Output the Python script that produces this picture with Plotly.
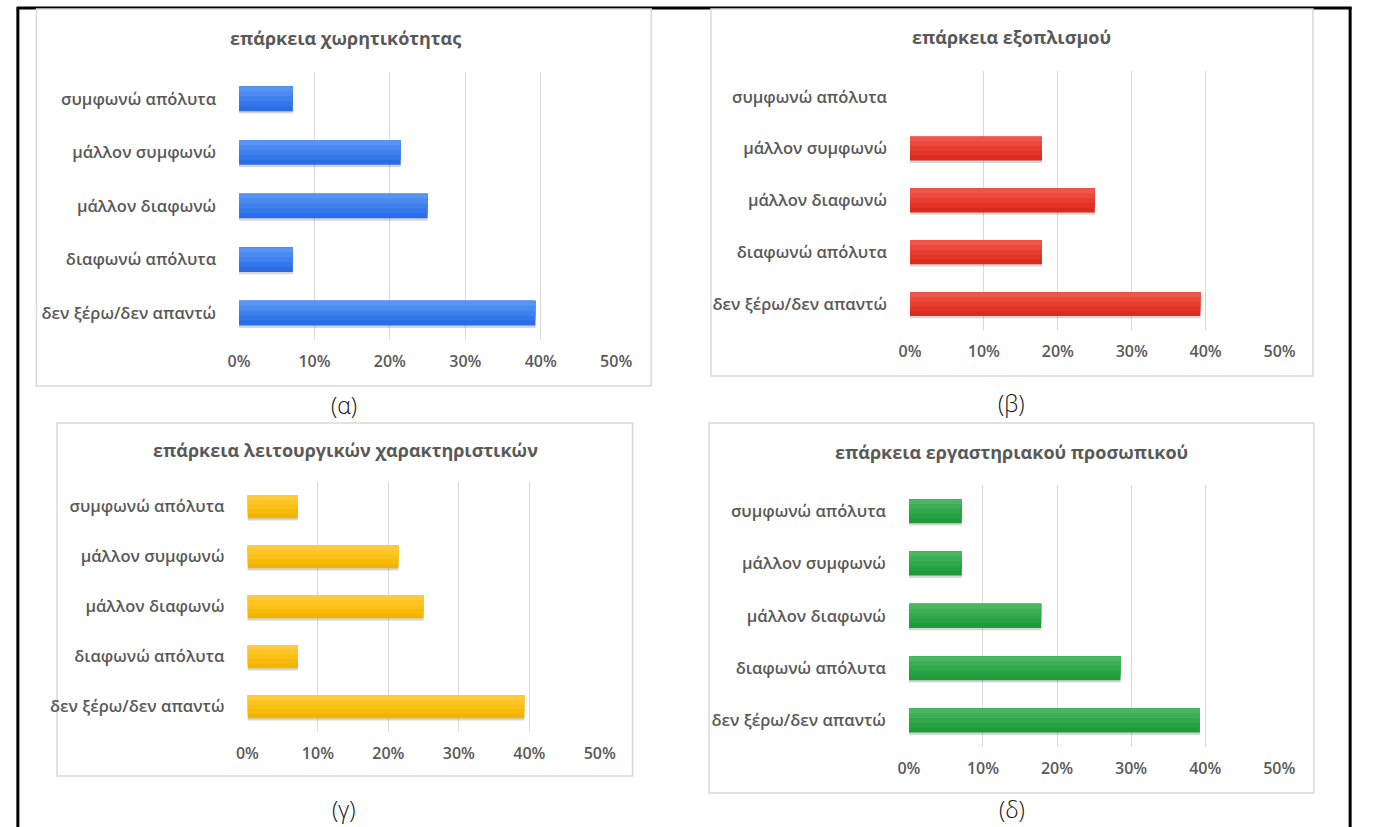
import plotly.graph_objects as go

W, H = 1373, 827

categories = ["συμφωνώ απόλυτα", "μάλλον συμφωνώ", "μάλλον διαφωνώ",
              "διαφωνώ απόλυτα", "δεν ξέρω/δεν απαντώ"]

titles = ["επάρκεια χωρητικότητας", "επάρκεια εξοπλισμού",
          "επάρκεια λειτουργικών χαρακτηριστικών", "επάρκεια εργαστηριακού προσωπικού"]

captions = ["(α)", "(β)", "(γ)", "(δ)"]

values_a = [0.0714, 0.2143, 0.25, 0.0714, 0.3929]
values_b = [0.0, 0.1786, 0.25, 0.1786, 0.3929]
values_c = [0.0714, 0.2143, 0.25, 0.0714, 0.3929]
values_d = [0.0714, 0.0714, 0.1786, 0.2857, 0.3929]

tick_vals = [0, 0.1, 0.2, 0.3, 0.4, 0.5]
tick_text = ["0%", "10%", "20%", "30%", "40%", "50%"]

# bar colour shades, from bottom (dark) to top (light)
shades_blue = ["#2b6de6", "#3477ea", "#3e80ee", "#4a8af1", "#5794f4"]
shades_red = ["#dc2a1e", "#e23326", "#e73c30", "#ec483c", "#f05549"]
shades_yellow = ["#f2b400", "#f7ba08", "#fbc016", "#ffc526", "#ffcb3c"]
shades_green = ["#209b3c", "#27a243", "#30a84b", "#3caf55", "#4ab661"]

panels = [
    dict(box=(26, 9, 653, 386), plot=(232.6, 72, 617.3, 340), title=(341, 38), cap=(340, 405)),
    dict(box=(714, 9, 1328, 376), plot=(917, 71, 1294, 330), title=(1021, 37), cap=(1021, 403)),
    dict(box=(47, 423, 634, 776), plot=(241.2, 481.7, 600.6, 731.7), title=(341, 450), cap=(340, 809)),
    dict(box=(712, 423, 1329, 793), plot=(915.9, 485, 1293.7, 746.7), title=(1021, 452), cap=(1021, 809)),
]

all_values = [values_a, values_b, values_c, values_d]
all_shades = [shades_blue, shades_red, shades_yellow, shades_green]

fx = lambda px: px / W
fy = lambda py: 1 - py / H

fig = go.Figure()
shapes = []
annotations = []

# outer black frame
shapes.append(dict(type="line", xref="paper", yref="paper", x0=fx(7), x1=fx(7), y0=fy(7), y1=fy(H + 5),
                   line=dict(color="black", width=3), layer="below"))
shapes.append(dict(type="line", xref="paper", yref="paper", x0=fx(6), x1=fx(1367.5), y0=fy(8), y1=fy(8),
                   line=dict(color="black", width=3), layer="below"))
shapes.append(dict(type="line", xref="paper", yref="paper", x0=fx(1366), x1=fx(1366), y0=fy(7), y1=fy(H + 5),
                   line=dict(color="black", width=3), layer="below"))

label_font = dict(family="Open Sans", size=16.5, color="#595959", weight=600)
tick_font = dict(family="Open Sans", size=16, color="#595959", weight=600)

BAR_W = 0.46

for i, (p, vals, shades, title, cap) in enumerate(zip(panels, all_values, all_shades, titles, captions)):
    n = "" if i == 0 else str(i + 1)
    bx0, by0, bx1, by1 = p["box"]
    shapes.append(dict(type="rect", xref="paper", yref="paper",
                       x0=fx(bx0), x1=fx(bx1), y0=fy(by1), y1=fy(by0),
                       fillcolor="white", line=dict(color="#d9d9d9", width=1.5), layer="below"))
    px0, py0, px1, py1 = p["plot"]
    # soft shadow under each bar
    fig.add_trace(go.Bar(
        x=vals, y=categories, orientation="h",
        marker=dict(color="rgba(0,0,0,0.16)", line=dict(width=0)),
        width=BAR_W, offset=-BAR_W / 2 + 0.045,
        xaxis="x" + n, yaxis="y" + n, showlegend=False, hoverinfo="skip",
    ))
    # bar drawn as stacked shade bands (light at top)
    k = len(shades)
    for j, c in enumerate(shades):
        w = BAR_W * (k - j) / k
        fig.add_trace(go.Bar(
            x=vals, y=categories, orientation="h",
            marker=dict(color=c, line=dict(width=0)),
            width=w, offset=-BAR_W / 2,
            xaxis="x" + n, yaxis="y" + n, showlegend=False,
            hoverinfo="x+y" if j == 0 else "skip",
        ))
    fig.layout["xaxis" + n] = dict(
        domain=[fx(px0), fx(px1)], range=[0, 0.5], anchor="y" + n,
        tickvals=tick_vals, ticktext=tick_text, showgrid=True, gridcolor="#d9d9d9", gridwidth=1,
        zeroline=False, showline=False, ticks="", ticklabelstandoff=10,
        tickfont=tick_font, fixedrange=True,
    )
    fig.layout["yaxis" + n] = dict(
        domain=[fy(py1), fy(py0)], anchor="x" + n, type="category",
        categoryorder="array", categoryarray=categories, autorange="reversed",
        showgrid=False, zeroline=False, showline=False, ticks="", ticklabelstandoff=22,
        tickfont=label_font, fixedrange=True,
    )
    tx, ty = p["title"]
    annotations.append(dict(text=title, x=fx(tx), y=fy(ty), xref="paper", yref="paper",
                            showarrow=False, xanchor="center", yanchor="middle",
                            font=dict(family="Open Sans", size=18, color="#595959", weight=700)))
    cx, cy = p["cap"]
    annotations.append(dict(text=cap, x=fx(cx), y=fy(cy), xref="paper", yref="paper",
                            showarrow=False, xanchor="center", yanchor="middle",
                            font=dict(family="Open Sans", size=23, color="#111111", weight=300)))

fig.update_layout(
    width=W, height=H, margin=dict(l=0, r=0, t=0, b=0),
    paper_bgcolor="white", plot_bgcolor="rgba(0,0,0,0)",
    barmode="overlay", shapes=shapes, annotations=annotations,
)

fig.write_html("out.html", config={"displayModeBar": False},
               post_script="document.body.style.margin='0';document.body.style.overflow='hidden';")
